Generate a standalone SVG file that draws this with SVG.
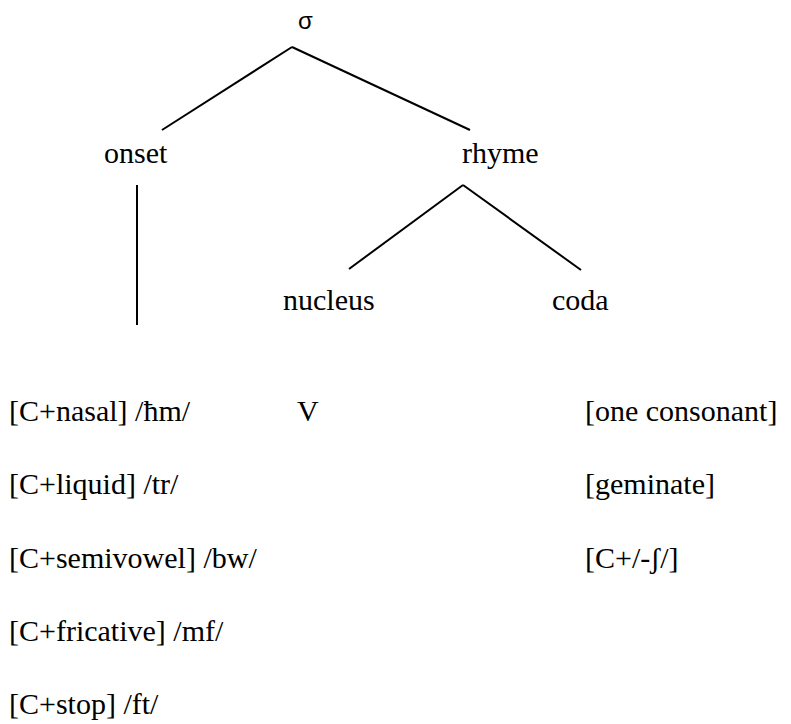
<svg xmlns="http://www.w3.org/2000/svg" width="791" height="724" viewBox="0 0 791 724">
<style>
.t{font-family:"Liberation Serif","Times New Roman",serif;font-size:30px;fill:#000}
.s{font-family:"Liberation Sans",Arial,sans-serif;font-size:24px;fill:#000}
.e{stroke:#000;stroke-width:2;fill:none}
</style>
<rect width="791" height="724" fill="#fff"/>
<g id="connectors">
<line class="e" x1="292" y1="47" x2="162" y2="130"/>
<line class="e" x1="292" y1="47" x2="470" y2="130"/>
<line class="e" x1="137" y1="185" x2="137" y2="325"/>
<line class="e" x1="463" y1="185" x2="349" y2="269"/>
<line class="e" x1="463" y1="185" x2="581" y2="270"/>
</g>
<g id="sigma"><text class="s" x="298" y="29">σ</text></g>
<g id="onset"><text class="t" x="104" y="163">onset</text></g>
<g id="rhyme"><text class="t" x="462" y="163">rhyme</text></g>
<g id="nucleus"><text class="t" x="283" y="310">nucleus</text></g>
<g id="coda"><text class="t" x="552" y="310">coda</text></g>
<g id="onset-list">
<text class="t" x="9" y="421">[C+nasal] /ħm/</text>
<text class="t" x="9" y="494">[C+liquid] /tr/</text>
<text class="t" x="9" y="568">[C+semivowel] /bw/</text>
<text class="t" x="9" y="641">[C+fricative] /mf/</text>
<text class="t" x="9" y="714">[C+stop] /ft/</text>
</g>
<g id="nucleus-list"><text class="t" x="297" y="421">V</text></g>
<g id="coda-list">
<text class="t" x="585" y="421">[one consonant]</text>
<text class="t" x="585" y="494">[geminate]</text>
<text class="t" x="585" y="568">[C+/-ʃ/]</text>
</g>
</svg>
